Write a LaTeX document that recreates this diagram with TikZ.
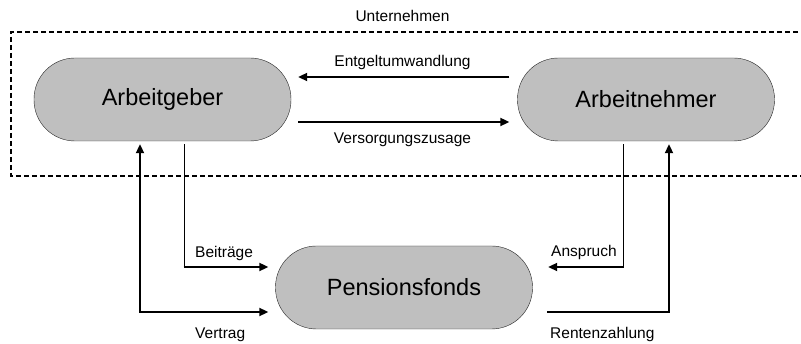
\documentclass[tikz,border=0pt]{standalone}
\usepackage{fontspec}
\setmainfont{Liberation Sans}
\usetikzlibrary{positioning,arrows.meta}

\tikzset{
  party/.style={draw=black!85, thin, fill=gray!50, rounded corners=41pt,
    minimum width=257pt, minimum height=83pt, inner sep=0pt,
    font=\fontsize{23.5}{28}\selectfont},
  lbl/.style={font=\fontsize{15.5}{18}\selectfont, inner sep=0pt},
  flow/.style={line width=2pt, -{Triangle[length=9pt,width=8pt]}},
  tie/.style={line width=0.9pt},
}

\begin{document}
\begin{tikzpicture}[x=1pt,y=-1pt]
  \useasboundingbox (0,0) rectangle (801,344);
  % company boundary
  \draw[line width=1.3pt, dash pattern=on 5pt off 3pt] (830,32) -- (11,32) -- (11,176) -- (830,176);
  \node[lbl] (firma) at (402.5,16) {Unternehmen};

  \node[party] (ag) at (162.5,99.5) {Arbeitgeber};
  \node[party] (an) at (646,99.5) {Arbeitnehmer};
  \node[party] (pf) at (404,287.5) {Pensionsfonds};

  % inside the company
  \draw[flow, shorten <=8pt, shorten >=7pt] (an.west |- 0,77) -- (ag.east |- 0,77);
  \node[lbl] (ewl) at (402.5,62) {Entgeltumwandlung};
  \draw[flow, shorten <=7pt, shorten >=8pt] (ag.east |- 0,122) -- (an.west |- 0,122);
  \node[lbl] (vzs) at (402.5,140) {Versorgungszusage};

  % Arbeitgeber -- Pensionsfonds
  \coordinate (bt) at (184,267);
  \draw[tie, shorten <=3pt] (ag.south -| bt) -- (bt);
  \draw[flow, shorten >=7pt] ([xshift=-0.5pt]bt) -- (pf.west |- bt);
  \node[lbl, anchor=west] (beitr) at (195,253) {Beiträge};
  \coordinate (vt) at (140,312);
  \draw[flow, {Triangle[length=9pt,width=8pt]}-{Triangle[length=9pt,width=8pt]},
    shorten <=3pt, shorten >=7pt] (ag.south -| vt) -- (vt) -- (pf.west |- vt);
  \node[lbl, anchor=west] (vertr) at (195,335) {Vertrag};

  % Arbeitnehmer -- Pensionsfonds
  \coordinate (as) at (623,267);
  \draw[tie, shorten <=3pt] (an.south -| as) -- (as);
  \draw[flow, shorten >=15.5pt] ([xshift=0.5pt]as) -- (pf.east |- as);
  \node[lbl, anchor=west] (anspr) at (551,252) {Anspruch};
  \coordinate (rz) at (669,312);
  \draw[flow, shorten <=14.5pt, shorten >=3pt] (pf.east |- rz) -- (rz) -- (an.south -| rz);
  \node[lbl, anchor=west] (rente) at (550,334) {Rentenzahlung};
\end{tikzpicture}
\end{document}
